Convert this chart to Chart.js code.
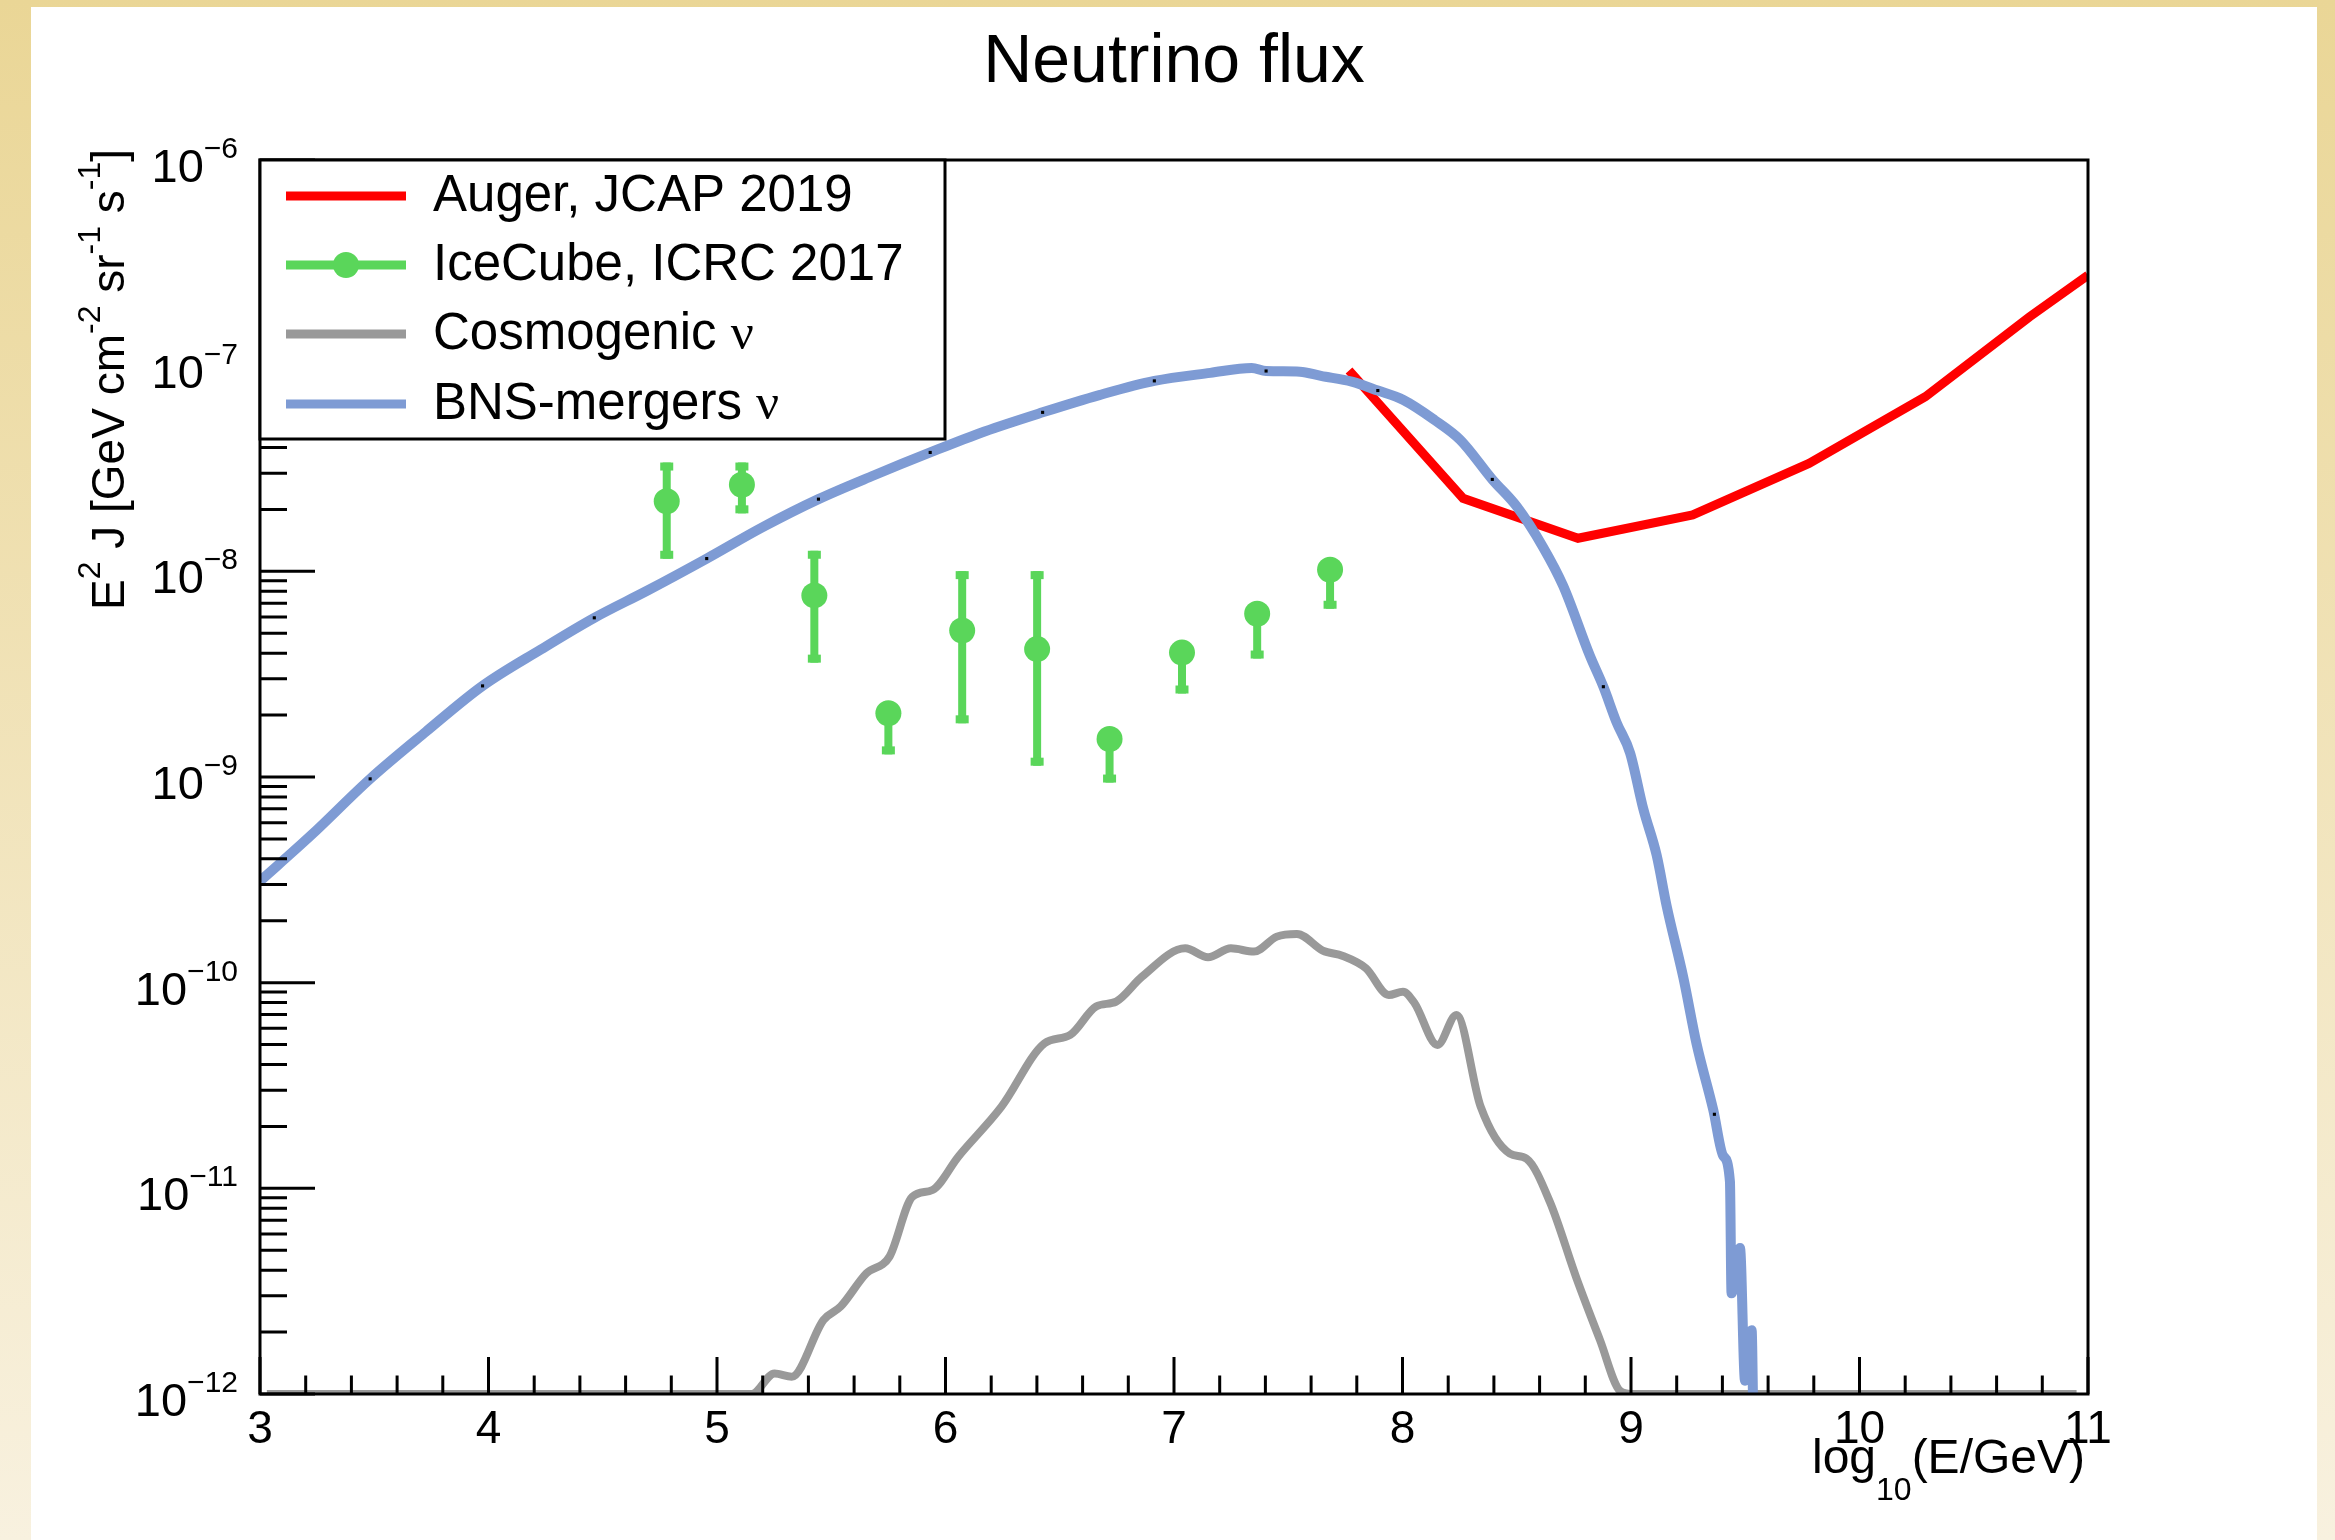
<!DOCTYPE html>
<html>
<head>
<meta charset="utf-8">
<title>Neutrino flux</title>
<script src="https://cdn.jsdelivr.net/npm/chart.js@4.4.1/dist/chart.umd.min.js"></script>
<style>
  html, body { margin: 0; padding: 0; background: #fff; }
  canvas { display: block; }
</style>
</head>
<body>
<canvas id="flux_chart" width="2335" height="1540"></canvas>
<script>
// x values are log10(E/GeV), flux values are log10(E^2 J / GeV cm^-2 sr^-1 s^-1)

// Auger, JCAP 2019 upper limit
var augerLogE    = [7.766, 8.265, 8.768, 9.270, 9.779, 10.288, 10.744, 11.0];
var augerLogFlux = [-7.024, -7.645, -7.839, -7.726, -7.475, -7.151, -6.763, -6.56];

// IceCube, ICRC 2017 differential points with asymmetric errors
var icecubeLogE    = [4.780, 5.109, 5.426, 5.750, 6.073, 6.401, 6.718, 7.035, 7.364, 7.683];
var icecubeLogFlux = [-7.659, -7.579, -8.117, -8.690, -8.288, -8.378, -8.815, -8.395, -8.206, -7.992];
var icecubeLogHigh = [-7.471, -7.471, -7.900, -8.690, -7.999, -7.999, -8.815, -8.395, -8.206, -7.992];
var icecubeLogLow  = [-7.939, -7.718, -8.444, -8.890, -8.739, -8.945, -9.027, -8.594, -8.424, -8.182];

// cosmogenic neutrinos
var cosmoLogE = [3.03, 5.152, 5.252, 5.327, 5.466, 5.541, 5.654, 5.755, 5.855, 5.943, 6.056,
  6.245, 6.433, 6.546, 6.659, 6.747, 6.860, 7.049, 7.149, 7.249, 7.350, 7.450, 7.538, 7.651,
  7.739, 7.840, 7.940, 8.002, 8.053, 8.153, 8.236, 8.342, 8.470, 8.543, 8.645, 8.762, 8.864,
  8.952, 9.0, 10.95];
var cosmoLogFlux = [-12, -12.0, -11.90, -11.916, -11.64, -11.575, -11.413, -11.332, -11.041,
  -11.008, -10.846, -10.603, -10.295, -10.254, -10.116, -10.092, -9.971, -9.833, -9.876, -9.833,
  -9.849, -9.776, -9.763, -9.844, -9.870, -9.930, -10.060, -10.044, -10.100, -10.303, -10.157,
  -10.603, -10.831, -10.856, -11.066, -11.439, -11.737, -11.985, -12, -12];

// BNS mergers
var bnsLogE = [3.0, 3.224, 3.482, 3.726, 3.974, 4.229, 4.463, 4.698, 4.955, 5.2, 5.444, 5.685,
  5.933, 6.171, 6.425, 6.673, 6.914, 7.159, 7.34, 7.403, 7.551, 7.643, 7.778, 7.892, 8.004,
  8.14, 8.253, 8.393, 8.501, 8.614, 8.703, 8.82, 8.879, 8.937, 8.996, 9.054, 9.112, 9.156,
  9.229, 9.287, 9.36, 9.404, 9.433, 9.44, 9.477, 9.499, 9.528, 9.535];
var bnsLogFlux = [-9.506, -9.283, -9.009, -8.780, -8.557, -8.380, -8.226, -8.092, -7.938,
  -7.785, -7.649, -7.534, -7.422, -7.320, -7.227, -7.143, -7.074, -7.035, -7.011, -7.026,
  -7.029, -7.050, -7.078, -7.121, -7.167, -7.264, -7.361, -7.553, -7.686, -7.880, -8.07,
  -8.41, -8.561, -8.735, -8.883, -9.156, -9.379, -9.627, -9.975, -10.298, -10.619, -10.843,
  -10.967, -11.51, -11.29, -11.935, -11.69, -12.1];
// small markers sitting on the BNS curve
var bnsMarkLogE    = [3.482, 3.974, 4.463, 4.955, 5.444, 5.933, 6.425, 6.914, 7.403, 7.892, 8.393, 8.879, 9.365];
var bnsMarkLogFlux = [-9.009, -8.557, -8.226, -7.938, -7.649, -7.422, -7.227, -7.074, -7.026, -7.121, -7.553, -8.561, -10.64];

// axis ticks
var xTickLabels = [3, 4, 5, 6, 7, 8, 9, 10, 11];
var xMinorPerMajor = 5;
var yTickExponents = [-12, -11, -10, -9, -8, -7, -6];

var legendNames = ['Auger, JCAP 2019', 'IceCube, ICRC 2017', 'Cosmogenic \u03bd', 'BNS-mergers \u03bd'];

var RED = '#ff0000', GREEN = '#5ad65a', GRAY = '#999999', BLUE = '#7e9bd4';
var SANS = '"Liberation Sans", Arial, Helvetica, sans-serif';
var SERIF = '"Liberation Serif", "DejaVu Serif", serif';

function points(xs, logs) {
  return xs.map(function(x, i) { return {x: x, y: Math.pow(10, logs[i])}; });
}

// draws a run of text pieces (main text, super/subscripts) starting at x
function richWidth(ctx, parts) {
  var w = 0;
  parts.forEach(function(p) {
    ctx.font = p.size + 'px ' + (p.font || SANS);
    w += ctx.measureText(p.t).width;
  });
  return w;
}
function drawRich(ctx, parts, x, y, align) {
  var w = richWidth(ctx, parts);
  var cx = align === 'right' ? x - w : (align === 'center' ? x - w / 2 : x);
  ctx.textAlign = 'left';
  ctx.textBaseline = 'alphabetic';
  parts.forEach(function(p) {
    ctx.font = p.size + 'px ' + (p.font || SANS);
    ctx.fillText(p.t, cx, y + (p.dy || 0));
    cx += ctx.measureText(p.t).width;
  });
}

var backgroundPlugin = {
  id: 'background',
  beforeDraw: function(chart) {
    var ctx = chart.ctx;
    var g = ctx.createLinearGradient(0, 0, 0, chart.height);
    g.addColorStop(0, '#ead696');
    g.addColorStop(1, '#f8f1df');
    ctx.save();
    ctx.fillStyle = g;
    ctx.fillRect(0, 0, chart.width, chart.height);
    ctx.fillStyle = '#ffffff';
    ctx.fillRect(31, 7, 2286, chart.height - 7);
    ctx.restore();
  }
};

var errorBarPlugin = {
  id: 'errorbars',
  beforeDatasetsDraw: function(chart) {
    var ctx = chart.ctx, xs = chart.scales.x, ys = chart.scales.y;
    ctx.save();
    ctx.fillStyle = GREEN;
    ctx.strokeStyle = GREEN;
    ctx.lineWidth = 8;
    icecubeLogE.forEach(function(e, i) {
      var px = xs.getPixelForValue(e);
      var pc = ys.getPixelForValue(Math.pow(10, icecubeLogFlux[i]));
      var ph = ys.getPixelForValue(Math.pow(10, icecubeLogHigh[i]));
      var pl = ys.getPixelForValue(Math.pow(10, icecubeLogLow[i]));
      if (ph < pc) {
        ctx.beginPath(); ctx.moveTo(px, ph); ctx.lineTo(px, pc); ctx.stroke();
        ctx.fillRect(px - 6.5, ph, 13, 8);
      }
      if (pl > pc) {
        ctx.beginPath(); ctx.moveTo(px, pc); ctx.lineTo(px, pl); ctx.stroke();
        ctx.fillRect(px - 6.5, pl - 8, 13, 8);
      }
    });
    ctx.restore();
  }
};

var framePlugin = {
  id: 'frame',
  afterDatasetsDraw: function(chart) {
    var ctx = chart.ctx, a = chart.chartArea, xs = chart.scales.x, ys = chart.scales.y;
    ctx.save();
    ctx.strokeStyle = '#000';
    ctx.fillStyle = '#000';
    ctx.lineWidth = 3;
    ctx.strokeRect(a.left, a.top, a.right - a.left, a.bottom - a.top);

    // x ticks (inside, bottom edge)
    ctx.lineWidth = 3;
    ctx.beginPath();
    xTickLabels.forEach(function(v, k) {
      var px = xs.getPixelForValue(v);
      ctx.moveTo(px, a.bottom); ctx.lineTo(px, a.bottom - 37);
      if (k < xTickLabels.length - 1) {
        for (var m = 1; m < xMinorPerMajor; m++) {
          var pm = xs.getPixelForValue(v + m / xMinorPerMajor);
          ctx.moveTo(pm, a.bottom); ctx.lineTo(pm, a.bottom - 18.5);
        }
      }
    });
    // y ticks (inside, left edge)
    yTickExponents.forEach(function(n, k) {
      var py = ys.getPixelForValue(Math.pow(10, n));
      ctx.moveTo(a.left, py); ctx.lineTo(a.left + 55, py);
      if (k < yTickExponents.length - 1) {
        for (var m = 2; m < 10; m++) {
          var pm = ys.getPixelForValue(m * Math.pow(10, n));
          ctx.moveTo(a.left, pm); ctx.lineTo(a.left + 27, pm);
        }
      }
    });
    ctx.stroke();

    // tick labels
    xTickLabels.forEach(function(v) {
      drawRich(ctx, [{t: String(v), size: 46}], xs.getPixelForValue(v), a.bottom + 49, 'center');
    });
    yTickExponents.forEach(function(n) {
      var py = ys.getPixelForValue(Math.pow(10, n));
      drawRich(ctx, [{t: '10', size: 47}, {t: '\u2212' + Math.abs(n), size: 30, dy: -24}], 238, py + 22, 'right');
    });

    // axis titles
    drawRich(ctx, [{t: 'log', size: 48}, {t: '10', size: 32, dy: 27}, {t: '(E/GeV)', size: 48}], a.right - 3, 1473, 'right');
    ctx.save();
    ctx.translate(124, 149);
    ctx.rotate(-Math.PI / 2);
    drawRich(ctx, [
      {t: 'E', size: 46}, {t: '2', size: 32, dy: -24}, {t: ' J [GeV cm', size: 46},
      {t: '-2', size: 32, dy: -24}, {t: ' sr', size: 46}, {t: '-1', size: 32, dy: -24},
      {t: ' s', size: 46}, {t: '-1', size: 32, dy: -24}, {t: ']', size: 46}
    ], 0, 0, 'right');
    ctx.restore();

    // title
    drawRich(ctx, [{t: 'Neutrino flux', size: 68}], 1174, 82, 'center');

    // legend box
    var lx = a.left, ly = a.top, lw = 685, lh = 279;
    ctx.fillStyle = '#fff';
    ctx.fillRect(lx, ly, lw, lh);
    ctx.lineWidth = 3;
    ctx.strokeRect(lx, ly, lw, lh);
    var colors = [RED, GREEN, GRAY, BLUE];
    var rowY = [196, 265, 334, 404];
    legendNames.forEach(function(name, i) {
      ctx.strokeStyle = colors[i];
      ctx.lineWidth = 9;
      ctx.beginPath(); ctx.moveTo(286, rowY[i]); ctx.lineTo(406, rowY[i]); ctx.stroke();
      if (i === 1) {
        ctx.fillStyle = GREEN;
        ctx.beginPath(); ctx.arc(346, rowY[i], 13, 0, Math.PI * 2); ctx.fill();
      }
      ctx.fillStyle = '#000';
      var nu = name.indexOf('\u03bd');
      var parts = nu < 0 ? [{t: name, size: 51}]
        : [{t: name.slice(0, nu), size: 51}, {t: '\u03bd', size: 51, font: SERIF}];
      drawRich(ctx, parts, 433, rowY[i] + 15, 'left');
    });
    ctx.restore();
  }
};

var ctx = document.getElementById('flux_chart');
var fluxChart = new Chart(ctx, {
  type: 'line',
  data: {
    datasets: [{
      label: 'BNS markers',
      data: points(bnsMarkLogE, bnsMarkLogFlux),
      showLine: false,
      pointStyle: 'rect',
      pointRadius: 2.2,
      pointBackgroundColor: '#000',
      pointBorderWidth: 0,
      order: 0
    }, {
      label: legendNames[3],
      data: points(bnsLogE, bnsLogFlux),
      borderColor: BLUE,
      borderWidth: 10,
      pointRadius: 0,
      cubicInterpolationMode: 'monotone',
      order: 1
    }, {
      label: legendNames[1],
      data: points(icecubeLogE, icecubeLogFlux),
      showLine: false,
      pointRadius: 13,
      pointBackgroundColor: GREEN,
      pointBorderWidth: 0,
      order: 2
    }, {
      label: legendNames[0],
      data: points(augerLogE, augerLogFlux),
      borderColor: RED,
      borderWidth: 9,
      pointRadius: 0,
      tension: 0,
      borderJoinStyle: 'miter',
      order: 3
    }, {
      label: legendNames[2],
      data: points(cosmoLogE, cosmoLogFlux),
      borderColor: GRAY,
      borderWidth: 8,
      pointRadius: 0,
      cubicInterpolationMode: 'monotone',
      order: 4
    }]
  },
  options: {
    responsive: false,
    devicePixelRatio: 1,
    animation: false,
    layout: { padding: { left: 260, right: 247, top: 160, bottom: 146 } },
    scales: {
      x: { type: 'linear', min: 3, max: 11, display: false },
      y: { type: 'logarithmic', min: 1e-12, max: 1e-6, display: false }
    },
    plugins: {
      legend: { display: false },
      title: { display: false },
      tooltip: { enabled: false }
    }
  },
  plugins: [backgroundPlugin, errorBarPlugin, framePlugin]
});
</script>
</body>
</html>
